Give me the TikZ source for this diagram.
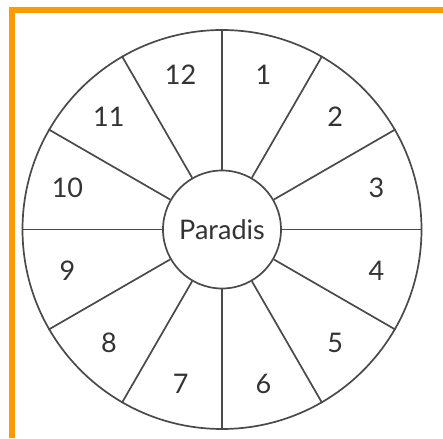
\documentclass[tikz,border=0pt]{standalone}
\usepackage{fontspec}
\setmainfont{Lato}
\usetikzlibrary{calc}
\definecolor{frameorange}{HTML}{FF9B00}
\definecolor{linegray}{HTML}{4A4A4A}
\definecolor{textgray}{HTML}{333333}
\begin{document}
\begin{tikzpicture}[x=1pt,y=1pt,
  wheelline/.style={draw=linegray,line width=1.7pt},
  numlabel/.style={text=textgray,font=\fontsize{27}{30}\selectfont,inner sep=0pt}]
\useasboundingbox (0,0) rectangle (443,438);
\fill[white] (0,0) rectangle (443,438);
% orange frame
\fill[frameorange] (9,425) rectangle (443,431);
\fill[frameorange] (9,0) rectangle (14.5,431);
% wheel
\node[wheelline,circle,minimum size=399pt,inner sep=0pt] (outer) at (222,208.5) {};
\node[wheelline,circle,minimum size=118pt,inner sep=0pt,text=textgray,font=\fontsize{27}{30}\selectfont] (paradis) at (222,208.5) {Paradis};
\foreach \a in {0,30,...,330}{
  \draw[linegray,line width=1.7pt] (paradis.\a) -- (outer.\a);
}
\foreach \n/\a in {1/75,2/45,3/15,4/-15,5/-45,6/-75,7/-105,8/-135,9/-165,10/165,11/135,12/105}{
  \node[numlabel] (n\n) at ($(outer.center)+(\a:160)$) {\n};
}
\end{tikzpicture}
\end{document}
